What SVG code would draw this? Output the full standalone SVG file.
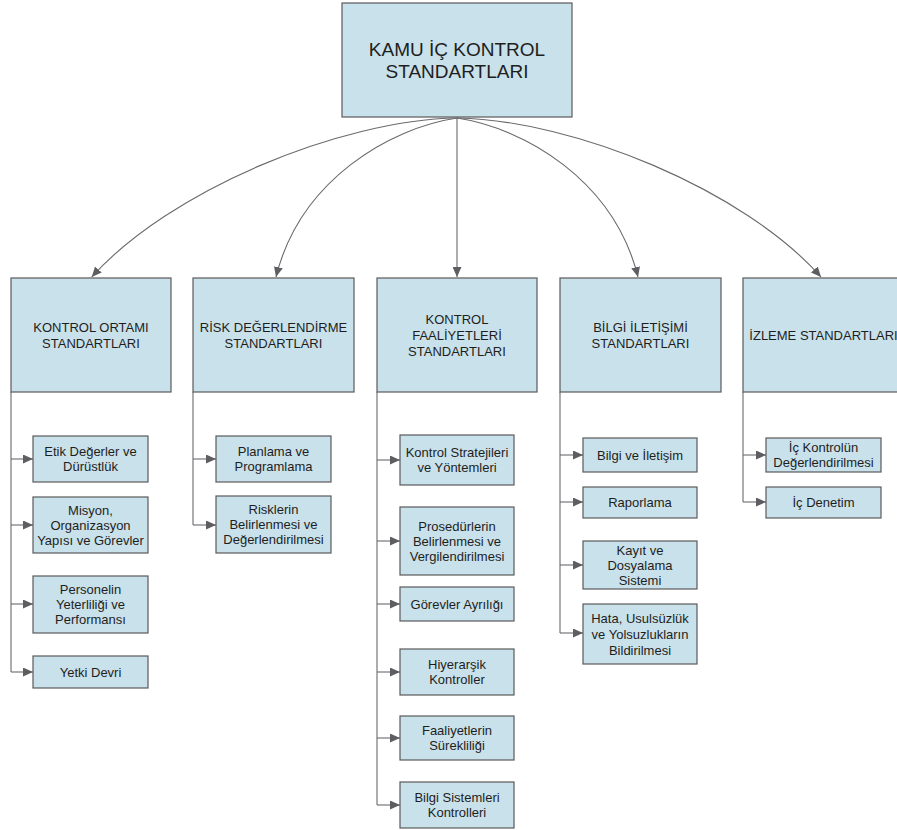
<svg xmlns="http://www.w3.org/2000/svg" width="897" height="830" viewBox="0 0 897 830">
<defs>
<style>
.box{fill:#c9e1ea;stroke:#5a5a5a;stroke-width:1.2}
.t{font-family:"Liberation Sans",Arial,sans-serif;font-size:13px;fill:#1e1e1e;text-anchor:middle}
.tt{font-family:"Liberation Sans",Arial,sans-serif;font-size:19px;fill:#1e1e1e;text-anchor:middle}
.c{fill:none;stroke:#6a6a6e;stroke-width:1.1;marker-end:url(#ah)}
.tr{fill:none;stroke:#6a6a6e;stroke-width:1.1}
</style>
<marker id="ah" markerUnits="userSpaceOnUse" markerWidth="11" markerHeight="9" refX="10" refY="4.5" orient="auto">
<path d="M0,0 L10,4.5 L0,9 z" fill="#5e5e62"/>
</marker>
</defs>
<rect width="897" height="830" fill="#ffffff"/>

<g id="connectors">
<path class="c" d="M457,118 C340,120 170,190 91.7,277"/>
<path class="c" d="M457,118 C390,128 300,180 276,277"/>
<path class="c" d="M457,118 L457,277"/>
<path class="c" d="M457,118 C524,128 614,180 638,277"/>
<path class="c" d="M457,118 C574,120 744,190 821,277"/>
<path class="tr" d="M11,392 V672"/>
<path class="c" d="M11,459 H33"/>
<path class="c" d="M11,525 H33"/>
<path class="c" d="M11,604 H33"/>
<path class="c" d="M11,672 H33"/>
<path class="tr" d="M193,392 V525"/>
<path class="c" d="M193,459 H216"/>
<path class="c" d="M193,525 H216"/>
<path class="tr" d="M377,392 V805"/>
<path class="c" d="M377,460 H400"/>
<path class="c" d="M377,541 H400"/>
<path class="c" d="M377,604 H400"/>
<path class="c" d="M377,672 H400"/>
<path class="c" d="M377,738 H400"/>
<path class="c" d="M377,805 H400"/>
<path class="tr" d="M560,392 V633"/>
<path class="c" d="M560,455 H583"/>
<path class="c" d="M560,502 H583"/>
<path class="c" d="M560,565 H583"/>
<path class="c" d="M560,633 H583"/>
<path class="tr" d="M743,392 V502"/>
<path class="c" d="M743,455 H766"/>
<path class="c" d="M743,502 H766"/>
</g>

<g id="root">
<rect class="box" x="342" y="3" width="230" height="114"/>
<text class="tt" x="457" y="56">KAMU İÇ KONTROL</text>
<text class="tt" x="457" y="78">STANDARTLARI</text>
</g>

<g id="col1">
<rect class="box" x="11" y="278" width="160" height="114"/>
<text class="t" x="91" y="331.6">KONTROL ORTAMI</text>
<text class="t" x="91" y="347.6">STANDARTLARI</text>
</g>
<g id="col2">
<rect class="box" x="193" y="278" width="161" height="114"/>
<text class="t" x="273.5" y="331.6">RİSK DEĞERLENDİRME</text>
<text class="t" x="273.5" y="347.6">STANDARTLARI</text>
</g>
<g id="col3">
<rect class="box" x="377" y="278" width="160" height="114"/>
<text class="t" x="457" y="323.6">KONTROL</text>
<text class="t" x="457" y="339.6">FAALİYETLERİ</text>
<text class="t" x="457" y="355.6">STANDARTLARI</text>
</g>
<g id="col4">
<rect class="box" x="560" y="278" width="161" height="114"/>
<text class="t" x="640.5" y="331.6">BİLGİ İLETİŞİMİ</text>
<text class="t" x="640.5" y="347.6">STANDARTLARI</text>
</g>
<g id="col5">
<rect class="box" x="743" y="278" width="161" height="114"/>
<text class="t" x="823.5" y="339.6">İZLEME STANDARTLARI</text>
</g>

<g id="c1-1"><rect class="box" x="33" y="436" width="115" height="46"/>
<text class="t" x="90.5" y="456.1">Etik Değerler ve</text><text class="t" x="90.5" y="471.1">Dürüstlük</text></g>
<g id="c1-2"><rect class="box" x="33" y="497" width="115" height="56"/>
<text class="t" x="90.5" y="514.6">Misyon,</text><text class="t" x="90.5" y="529.6">Organizasyon</text><text class="t" x="90.5" y="544.6">Yapısı ve Görevler</text></g>
<g id="c1-3"><rect class="box" x="33" y="576" width="115" height="57"/>
<text class="t" x="90.5" y="593.6">Personelin</text><text class="t" x="90.5" y="608.6">Yeterliliği ve</text><text class="t" x="90.5" y="623.6">Performansı</text></g>
<g id="c1-4"><rect class="box" x="33" y="656" width="115" height="32"/>
<text class="t" x="90.5" y="676.6">Yetki Devri</text></g>

<g id="c2-1"><rect class="box" x="216" y="436" width="115" height="46"/>
<text class="t" x="273.5" y="456.1">Planlama ve</text><text class="t" x="273.5" y="471.1">Programlama</text></g>
<g id="c2-2"><rect class="box" x="216" y="496" width="115" height="57"/>
<text class="t" x="273.5" y="514.1">Risklerin</text><text class="t" x="273.5" y="529.1">Belirlenmesi ve</text><text class="t" x="273.5" y="544.1">Değerlendirilmesi</text></g>

<g id="c3-1"><rect class="box" x="400" y="435" width="114" height="50"/>
<text class="t" x="457" y="457.1">Kontrol Stratejileri</text><text class="t" x="457" y="472.1">ve Yöntemleri</text></g>
<g id="c3-2"><rect class="box" x="400" y="507" width="114" height="68"/>
<text class="t" x="457" y="530.6">Prosedürlerin</text><text class="t" x="457" y="545.6">Belirlenmesi ve</text><text class="t" x="457" y="560.6">Vergilendirilmesi</text></g>
<g id="c3-3"><rect class="box" x="400" y="587" width="114" height="34"/>
<text class="t" x="457" y="608.6">Görevler Ayrılığı</text></g>
<g id="c3-4"><rect class="box" x="400" y="649" width="114" height="46"/>
<text class="t" x="457" y="669.1">Hiyerarşik</text><text class="t" x="457" y="684.1">Kontroller</text></g>
<g id="c3-5"><rect class="box" x="400" y="716" width="114" height="44"/>
<text class="t" x="457" y="735.1">Faaliyetlerin</text><text class="t" x="457" y="750.1">Sürekliliği</text></g>
<g id="c3-6"><rect class="box" x="400" y="782" width="114" height="46"/>
<text class="t" x="457" y="802.1">Bilgi Sistemleri</text><text class="t" x="457" y="817.1">Kontrolleri</text></g>

<g id="c4-1"><rect class="box" x="583" y="438" width="114" height="34"/>
<text class="t" x="640" y="459.6">Bilgi ve İletişim</text></g>
<g id="c4-2"><rect class="box" x="583" y="487" width="114" height="31"/>
<text class="t" x="640" y="507.1">Raporlama</text></g>
<g id="c4-3"><rect class="box" x="583" y="541" width="114" height="48"/>
<text class="t" x="640" y="554.6">Kayıt ve</text><text class="t" x="640" y="569.6">Dosyalama</text><text class="t" x="640" y="584.6">Sistemi</text></g>
<g id="c4-4"><rect class="box" x="583" y="604" width="114" height="60"/>
<text class="t" x="640" y="622.6">Hata, Usulsüzlük</text><text class="t" x="640" y="638.6">ve Yolsuzlukların</text><text class="t" x="640" y="654.6">Bildirilmesi</text></g>

<g id="c5-1"><rect class="box" x="766" y="438" width="115" height="34"/>
<text class="t" x="823.5" y="452.1">İç Kontrolün</text><text class="t" x="823.5" y="467.1">Değerlendirilmesi</text></g>
<g id="c5-2"><rect class="box" x="766" y="487" width="115" height="31"/>
<text class="t" x="823.5" y="507.1">İç Denetim</text></g>
</svg>
